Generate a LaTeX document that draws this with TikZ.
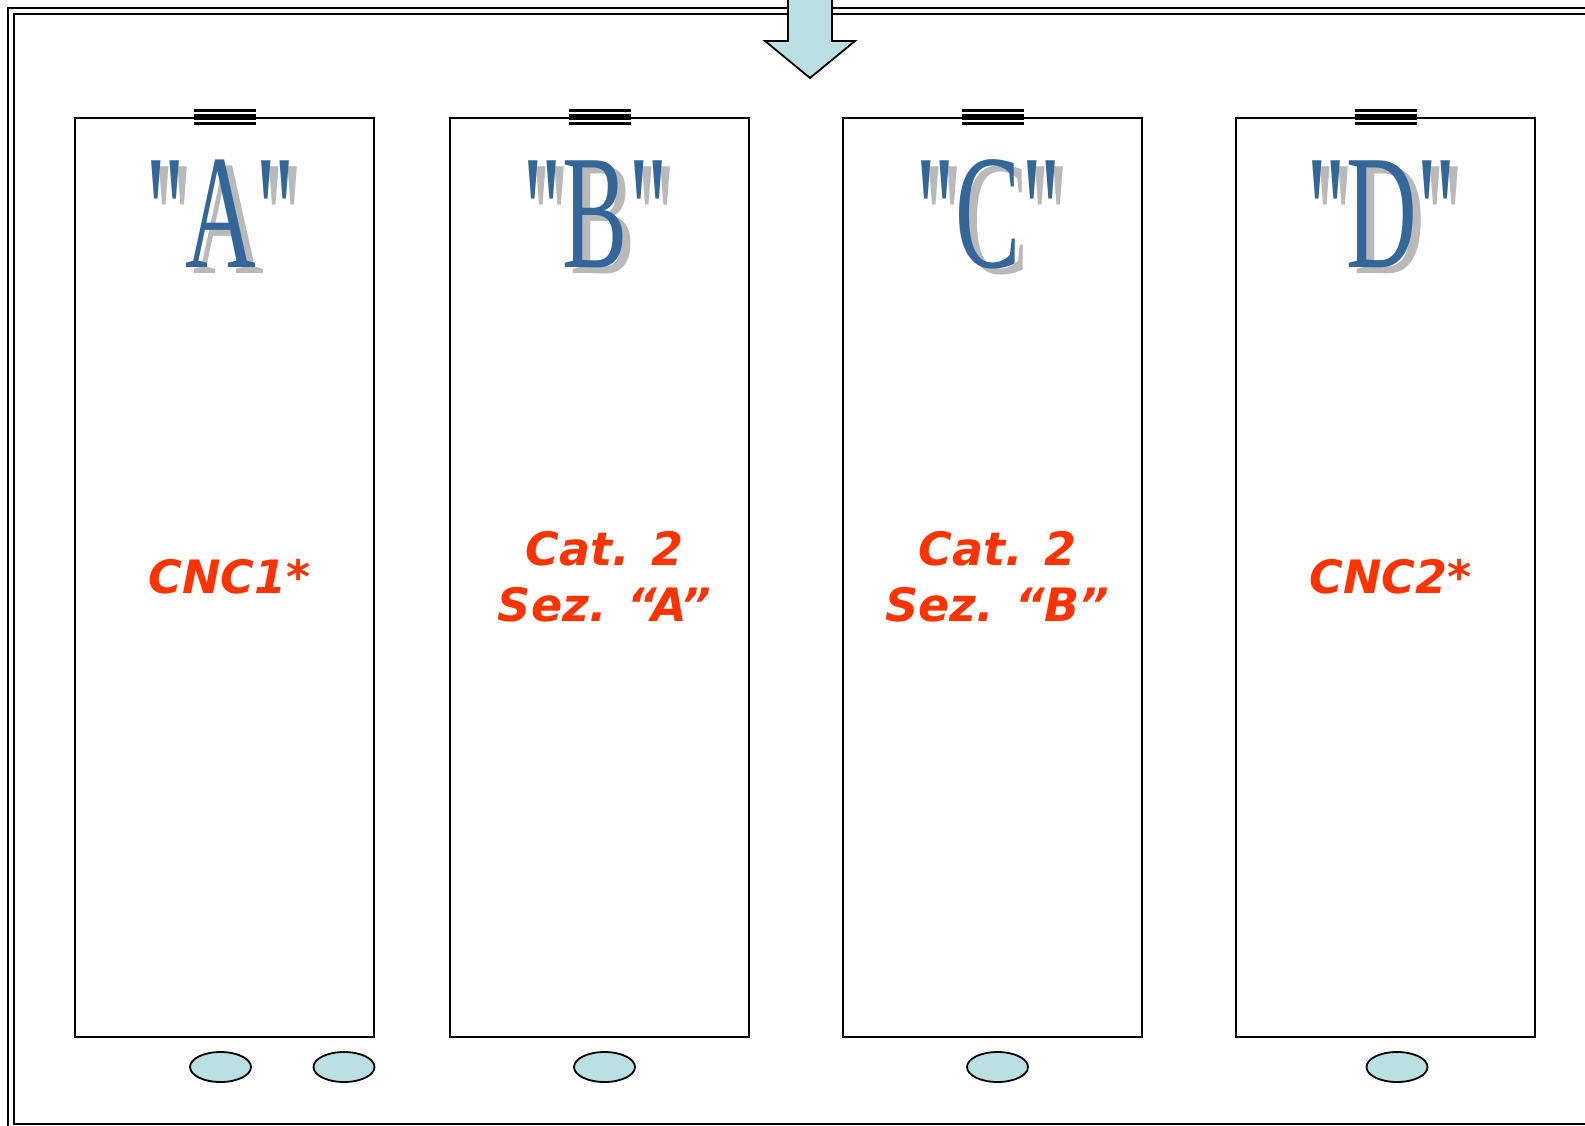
\documentclass[tikz,border=0pt]{standalone}
\usepackage{fontspec}
\setmainfont{Liberation Serif}
\newfontfamily\labelfont{DejaVu Sans}
\usetikzlibrary{shapes.geometric}

\definecolor{letterblue}{RGB}{51,102,153}
\definecolor{shadowgray}{RGB}{185,185,185}
\definecolor{labelred}{RGB}{255,51,0}
\definecolor{padfill}{RGB}{187,224,227}

\begin{document}
\begin{tikzpicture}[x=1pt, y=1pt,
    panel/.style={draw, line width=2, minimum width=299, minimum height=919, anchor=north, inner sep=0},
    bigletter/.style={font=\fontsize{163}{163}\selectfont, xscale=0.6, anchor=base, inner sep=0},
    catlabel/.style={font=\labelfont\bfseries\itshape\fontsize{46}{56}\selectfont, text=labelred, align=center},
    pad/.style={ellipse, draw, line width=1.8, fill=padfill, minimum width=61, minimum height=30, inner sep=0}]

    % Fix the page size
    \useasboundingbox (0,0) rectangle (1585,-1126);

    % Double frame (runs off the right and bottom edges)
    \draw[line width=1.5] (8,-8) rectangle (1610,-1140);
    \draw[line width=2.5] (14,-14) rectangle (1604,-1124);

    % Panels with their letters and labels
    \def\lety{-268}  % baseline of the big letters
    \def\laby{-577}  % centre of the red labels
    \foreach \cx/\n/\lab in {224.5/A/{CNC1*}, 599.5/B/{Cat. 2\\Sez. “A”}, 992.5/C/{Cat. 2\\Sez. “B”}, 1385.5/D/{CNC2*}} {
        \node[panel] (box-\n) at (\cx,-117) {};
        \draw[line width=2.7] (\cx-31,-110.3) -- (\cx+31,-110.3);
        \draw[line width=6]   (\cx-31,-117.3) -- (\cx+31,-117.3);
        \draw[line width=3]   (\cx-31,-124) -- (\cx+31,-124);
        \node[bigletter, text=shadowgray] (shadow-\n) at (\cx+4,\lety-5) {\textquotedbl\n\textquotedbl};
        \node[bigletter, text=letterblue] (letter-\n) at (\cx-4,\lety) {\textquotedbl\n\textquotedbl};
        \node[catlabel] (label-\n) at (\cx+5,\laby) {\lab};
    }

    % Pads under the panels
    \node[pad] (pad-A1) at (220.5,-1067) {};
    \node[pad] (pad-A2) at (344,-1067) {};
    \node[pad] (pad-B) at (604.5,-1067) {};
    \node[pad] (pad-C) at (997.5,-1067) {};
    \node[pad] (pad-D) at (1397,-1067) {};

    % Feed arrow from the top
    \draw[line width=1.8, fill=padfill] (788,5) -- (788,-41) -- (765,-41) -- (810,-78)
        -- (855,-41) -- (832,-41) -- (832,5) -- cycle;

\end{tikzpicture}
\end{document}
